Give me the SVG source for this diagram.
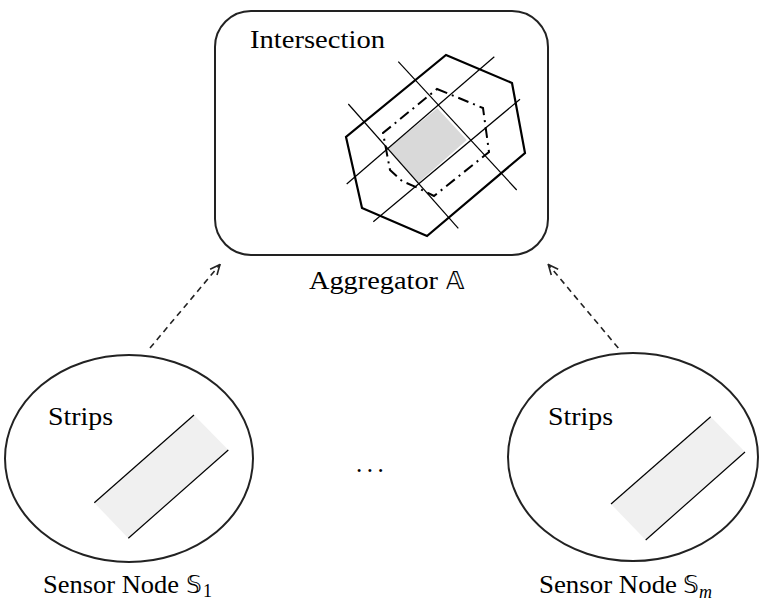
<svg xmlns="http://www.w3.org/2000/svg" width="762" height="607" viewBox="0 0 762 607">
<style>
.lbl{font-family:"Liberation Serif","DejaVu Serif",serif;font-size:25px;fill:#000}
.bb{font-family:"DejaVu Sans","Noto Sans",sans-serif;font-size:25px;fill:#000}
.sub{font-family:"Liberation Serif","DejaVu Serif",serif;font-size:18px;fill:#000}
.thin{stroke:#000;stroke-width:1.2;fill:none}
.conn{stroke:#222;stroke-width:1.6;fill:none;stroke-dasharray:6 4.5}
</style>
<defs>
<marker id="ah" viewBox="0 0 12 12" refX="11" refY="6" markerWidth="12" markerHeight="12" markerUnits="userSpaceOnUse" orient="auto">
<polyline points="1,1.5 11,6 1,10.5" fill="none" stroke="#222" stroke-width="1.6"/>
</marker>
</defs>
<rect width="762" height="607" fill="#fff"/>
<g id="aggregator">
<rect x="215" y="11" width="333" height="244" rx="36" ry="36" fill="none" stroke="#222" stroke-width="2"/>
<text class="lbl" x="250" y="48" textLength="135" lengthAdjust="spacingAndGlyphs">Intersection</text>
<polygon points="437.3,108.3 466.7,140 418.3,182.7 388.3,148.3" fill="#d9d9d9"/>
<polygon points="446,55 512,83 525,153 427,236 362,208 346,137" fill="none" stroke="#000" stroke-width="2.2"/>
<polygon points="437,89 483,108 489,152 434,196 418,188 402,181 390,170 383,133" fill="none" stroke="#000" stroke-width="2" stroke-dasharray="11 5 2 5"/>
<line class="thin" x1="346.7" y1="184" x2="494.3" y2="56.7"/>
<line class="thin" x1="373.3" y1="221.7" x2="520" y2="99.3"/>
<line class="thin" x1="348.3" y1="104" x2="458.3" y2="228.3"/>
<line class="thin" x1="398.3" y1="61.7" x2="516.7" y2="190"/>
<text class="lbl" x="309" y="289" textLength="129" lengthAdjust="spacingAndGlyphs">Aggregator</text>
<text class="bb" x="446" y="289">𝔸</text>
</g>
<g id="sensor1">
<ellipse cx="129" cy="458.5" rx="124" ry="103.5" fill="none" stroke="#222" stroke-width="2"/>
<text class="lbl" x="48" y="425" textLength="65" lengthAdjust="spacingAndGlyphs">Strips</text>
<polygon points="94.3,502.7 194,415 228.3,450 128.3,538.3" fill="#f0f0f0"/>
<line class="thin" x1="94.3" y1="502.7" x2="194" y2="415"/>
<line class="thin" x1="128.3" y1="538.3" x2="228.3" y2="450"/>
<text class="lbl" x="43" y="593" textLength="136" lengthAdjust="spacingAndGlyphs">Sensor Node</text>
<text class="bb" x="186" y="593">𝕊</text>
<text class="sub" x="203" y="597">1</text>
</g>
<g id="sensorm">
<ellipse cx="633" cy="457" rx="125" ry="104" fill="none" stroke="#222" stroke-width="2"/>
<text class="lbl" x="548" y="425" textLength="65" lengthAdjust="spacingAndGlyphs">Strips</text>
<polygon points="611,504 710.7,416.7 745,452 645.7,540" fill="#f0f0f0"/>
<line class="thin" x1="611" y1="504" x2="710.7" y2="416.7"/>
<line class="thin" x1="645.7" y1="540" x2="745" y2="452"/>
<text class="lbl" x="539" y="593" textLength="138" lengthAdjust="spacingAndGlyphs">Sensor Node</text>
<text class="bb" x="683" y="593">𝕊</text>
<text class="sub" x="699" y="598" font-size="20" font-style="italic">m</text>
</g>
<g id="dots">
<text class="lbl" x="356" y="472" letter-spacing="4.5">...</text>
</g>
<g id="connectors">
<line class="conn" x1="150" y1="348" x2="220" y2="264.5" marker-end="url(#ah)"/>
<line class="conn" x1="618.3" y1="348" x2="548.3" y2="264.5" marker-end="url(#ah)"/>
</g>
</svg>
